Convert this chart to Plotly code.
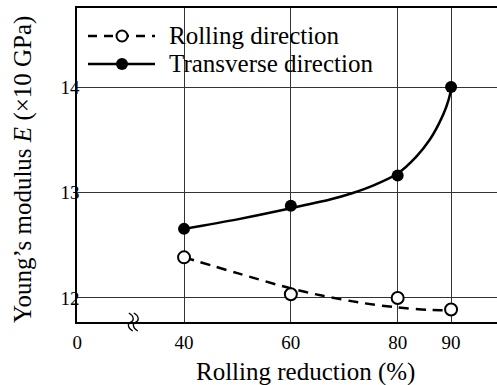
import plotly.graph_objects as go

# ---- data ----
reduction = [40, 60, 80, 90]
rolling_E = [12.385, 12.035, 12.0, 11.89]
transverse_E = [12.655, 12.875, 13.16, 14.0]

# fitted curves
trans_fit_x = [40, 50, 60, 67.5, 71.3, 75.6, 80, 83.5, 86, 87.8, 89.1, 89.85, 90]
trans_fit_y = [12.655, 12.745, 12.85, 12.935, 12.99, 13.07, 13.18, 13.34, 13.50, 13.66, 13.81, 13.94, 14.0]
roll_fit_x = [40, 50, 60, 66, 73.7, 80, 86, 90]
roll_fit_y = [12.385, 12.235, 12.09, 12.02, 11.95, 11.91, 11.886, 11.885]

x_tick_vals = [20, 40, 60, 80, 90]   # 0 is drawn at a broken-axis position
x_tick_text = ["0", "40", "60", "80", "90"]
y_tick_vals = [12, 13, 14]
y_tick_text = ["12", "13", "14"]

W, H = 497, 385
ML, MR, MT, MB = 77, 0, 8, 63
PW, PH = W - ML - MR, H - MT - MB
FONT = "Liberation Serif"
TFS = 25


def px(xp):
    return (xp - ML) / PW


def py(yp):
    return 1 - (yp - MT) / PH


fig = go.Figure()
fig.add_trace(go.Scatter(x=roll_fit_x, y=roll_fit_y, mode="lines",
                         line=dict(color="black", width=2.5, dash="10px,7px", shape="spline", smoothing=0.8),
                         showlegend=False, hoverinfo="skip"))
fig.add_trace(go.Scatter(x=trans_fit_x, y=trans_fit_y, mode="lines",
                         line=dict(color="black", width=2.5, shape="spline", smoothing=0.8),
                         showlegend=False, hoverinfo="skip"))
fig.add_trace(go.Scatter(x=reduction, y=rolling_E, mode="markers", name="Rolling direction",
                         marker=dict(size=12, color="white", line=dict(color="black", width=2)),
                         showlegend=False))
fig.add_trace(go.Scatter(x=reduction, y=transverse_E, mode="markers", name="Transverse direction",
                         marker=dict(size=12, color="black", line=dict(color="black", width=0)),
                         showlegend=False))

shapes = []
# legend background
shapes.append(dict(type="rect", xref="paper", yref="paper", x0=px(78), x1=px(388), y0=py(80), y1=py(22),
                   fillcolor="white", line=dict(width=0), layer="between"))
# legend samples
shapes.append(dict(type="line", xref="paper", yref="paper", x0=px(88), x1=px(155), y0=py(36), y1=py(36),
                   line=dict(color="black", width=2.5, dash="9px,7px")))
shapes.append(dict(type="line", xref="paper", yref="paper", x0=px(88), x1=px(155), y0=py(64), y1=py(64),
                   line=dict(color="black", width=2.5)))
shapes.append(dict(type="circle", xref="paper", yref="paper", xsizemode="pixel", ysizemode="pixel",
                   xanchor=px(122), yanchor=py(36), x0=-5.5, x1=5.5, y0=-5.5, y1=5.5,
                   fillcolor="white", line=dict(color="black", width=2)))
shapes.append(dict(type="circle", xref="paper", yref="paper", xsizemode="pixel", ysizemode="pixel",
                   xanchor=px(122), yanchor=py(64), x0=-6, x1=6, y0=-6, y1=6,
                   fillcolor="black", line=dict(color="black", width=0)))
# axis break symbol
for dx in (-2.5, 2.5):
    shapes.append(dict(type="path", xref="x", yref="paper", xsizemode="pixel", ysizemode="pixel",
                       xanchor=30.5, yanchor=0,
                       path=f"M {dx-2},9 C {dx+3.5},6 {dx+3.5},1 {dx},0 C {dx-3.5},-1 {dx-3.5},-6 {dx+2},-9",
                       line=dict(color="black", width=1.3)))

annotations = [
    dict(text="Rolling direction", x=px(167), y=py(36), xref="paper", yref="paper",
         xanchor="left", yanchor="middle", showarrow=False, font=dict(family=FONT, size=TFS, color="black")),
    dict(text="Transverse direction", x=px(167), y=py(64), xref="paper", yref="paper",
         xanchor="left", yanchor="middle", showarrow=False, font=dict(family=FONT, size=TFS, color="black")),
    dict(text="Rolling reduction (%)", x=px(305), y=py(372), xref="paper", yref="paper",
         xanchor="center", yanchor="middle", showarrow=False, font=dict(family=FONT, size=25, color="black")),
    dict(text="Young\u2019s modulus <i>E</i> (\u00d710 GPa)", x=px(23), y=py(170), xref="paper", yref="paper",
         xanchor="center", yanchor="middle", textangle=-90, showarrow=False,
         font=dict(family=FONT, size=TFS, color="black")),
]

fig.update_layout(
    width=W, height=H,
    margin=dict(l=ML, r=MR, t=MT, b=MB),
    paper_bgcolor="white", plot_bgcolor="white",
    shapes=shapes, annotations=annotations,
    showlegend=False,
    xaxis=dict(range=[19.96, 98.6], tickvals=x_tick_vals, ticktext=x_tick_text,
               showgrid=True, gridcolor="#333333", gridwidth=1, zeroline=False,
               showline=True, linecolor="black", linewidth=1.5, mirror=True,
               ticks="", ticklen=0, ticklabelstandoff=2,
               tickfont=dict(family=FONT, size=19, color="black")),
    yaxis=dict(range=[11.772, 14.749], tickvals=y_tick_vals, ticktext=y_tick_text,
               showgrid=True, gridcolor="#333333", gridwidth=1, zeroline=False,
               showline=True, linecolor="black", linewidth=1.5, mirror=False,
               ticks="", ticklen=0, ticklabelstandoff=-8,
               tickfont=dict(family=FONT, size=19, color="black")),
)

fig.write_html("out.html", config={"displayModeBar": False},
               post_script="document.body.style.margin='0';document.body.style.overflow='hidden';")
